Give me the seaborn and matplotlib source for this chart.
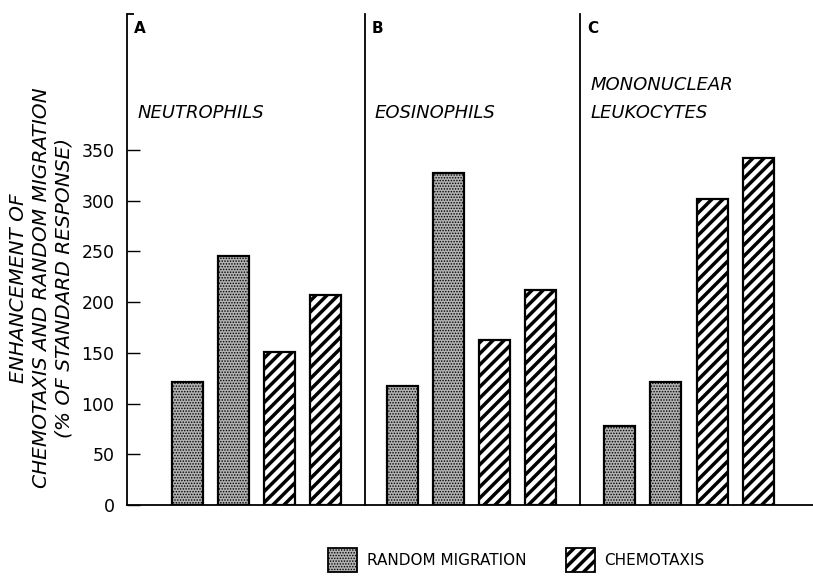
import matplotlib
matplotlib.use("Agg")
import matplotlib.pyplot as plt
from matplotlib.patches import Patch
import seaborn as sns
import pandas as pd

sns.set_style("white")
plt.rcParams['font.family'] = ['DejaVu Sans']
plt.rcParams['text.color'] = 'black'
plt.rcParams['ytick.color'] = 'black'
plt.rcParams['axes.labelcolor'] = 'black'
plt.rcParams['hatch.color'] = 'black'

# ---- data ----
panel_letters = ["A", "B", "C"]
panel_titles = ["NEUTROPHILS", "EOSINOPHILS", "MONONUCLEAR\nLEUKOCYTES"]
bar_ids = ["1", "2", "3", "4"]
bar_kinds = ["RANDOM MIGRATION", "RANDOM MIGRATION", "CHEMOTAXIS", "CHEMOTAXIS"]
neutrophils = [121, 245, 151, 207]
eosinophils = [117, 327, 163, 212]
mononuclear = [78, 121, 302, 342]
yticks = [0, 50, 100, 150, 200, 250, 300, 350]
ylabel = "ENHANCEMENT OF\nCHEMOTAXIS AND RANDOM MIGRATION\n(% OF STANDARD RESPONSE)"

panel_values = [neutrophils, eosinophils, mononuclear]
xlims = [(-1.30, 3.85), (-0.82, 3.85), (-0.85, 4.17)]

stipple_face = "#b2b2b2"
styles = {
    "RANDOM MIGRATION": dict(face=stipple_face, hatch="......", hlw=0.7),
    "CHEMOTAXIS": dict(face="white", hatch="///", hlw=2.5),
}


def style_patch(p, kind):
    st = styles[kind]
    p.set_facecolor(st["face"])
    p.set_edgecolor("black")
    p.set_hatch(st["hatch"])
    if hasattr(p, "set_hatch_linewidth"):
        p.set_hatch_linewidth(st["hlw"])


fig = plt.figure(figsize=(8.13, 5.76), dpi=100)
gs = fig.add_gridspec(1, 3, left=127/813, right=1.0, bottom=1-505/576, top=1-14/576,
                      wspace=0, width_ratios=[238, 215, 233])
axes = [fig.add_subplot(gs[0, i]) for i in range(3)]

for i, ax in enumerate(axes):
    df = pd.DataFrame({"bar": bar_ids, "value": panel_values[i], "kind": bar_kinds})
    sns.barplot(data=df, x="bar", y="value", hue="kind", order=bar_ids,
                hue_order=["RANDOM MIGRATION", "CHEMOTAXIS"], dodge=False,
                width=0.67, palette={"RANDOM MIGRATION": stipple_face, "CHEMOTAXIS": "white"},
                edgecolor="black", linewidth=1.6, ax=ax, legend=False, errorbar=None)
    for cont, kind in zip(ax.containers, ["RANDOM MIGRATION", "CHEMOTAXIS"]):
        for p in cont:
            style_patch(p, kind)
    ax.set_xlim(*xlims[i])
    ax.set_ylim(0, 484)
    ax.set_xlabel("")
    ax.set_ylabel("")
    ax.set_xticks([])
    for s in ["top", "right"]:
        ax.spines[s].set_visible(False)
    ax.spines["left"].set_color("black")
    ax.spines["left"].set_linewidth(1.3)
    ax.spines["bottom"].set_color("black")
    ax.spines["bottom"].set_linewidth(1.3)
    ax.patch.set_alpha(0)
    ax.text(0.03, 0.985, panel_letters[i], transform=ax.transAxes,
            fontsize=11, fontweight="bold", va="top", ha="left")
    ax.text(0.045, 0.78, panel_titles[i], transform=ax.transAxes,
            fontsize=13, fontstyle="italic", va="bottom", ha="left", linespacing=1.75)
    if i == 0:
        ax.set_yticks(yticks)
        ax.set_yticklabels([str(t) for t in yticks], fontsize=12.5)
        ax.tick_params(axis="y", direction="in", length=9, width=1.0, pad=9, left=True)
        ax.set_yticks([484], minor=True)
        ax.tick_params(axis="y", which="minor", direction="in", length=5, width=1.3, left=True)
    else:
        ax.set_yticks([])

fig.text(0.051, 0.50, ylabel, rotation=90, fontsize=14.5, fontstyle="italic",
         ha="center", va="center", linespacing=1.25)

handles = []
for k in ["RANDOM MIGRATION", "CHEMOTAXIS"]:
    h = Patch(facecolor=styles[k]["face"], hatch=styles[k]["hatch"], edgecolor="black",
              linewidth=1.3)
    handles.append(h)
leg = fig.legend(handles, ["RANDOM MIGRATION", "CHEMOTAXIS"], loc="center",
                 bbox_to_anchor=(0.635, 0.028), ncol=2, frameon=False, fontsize=11,
                 handlelength=1.9, handleheight=2.0, columnspacing=2.6, handletextpad=0.6)
for p, k in zip(leg.get_patches(), ["RANDOM MIGRATION", "CHEMOTAXIS"]):
    style_patch(p, k)

fig.savefig("out.png", dpi=100)
